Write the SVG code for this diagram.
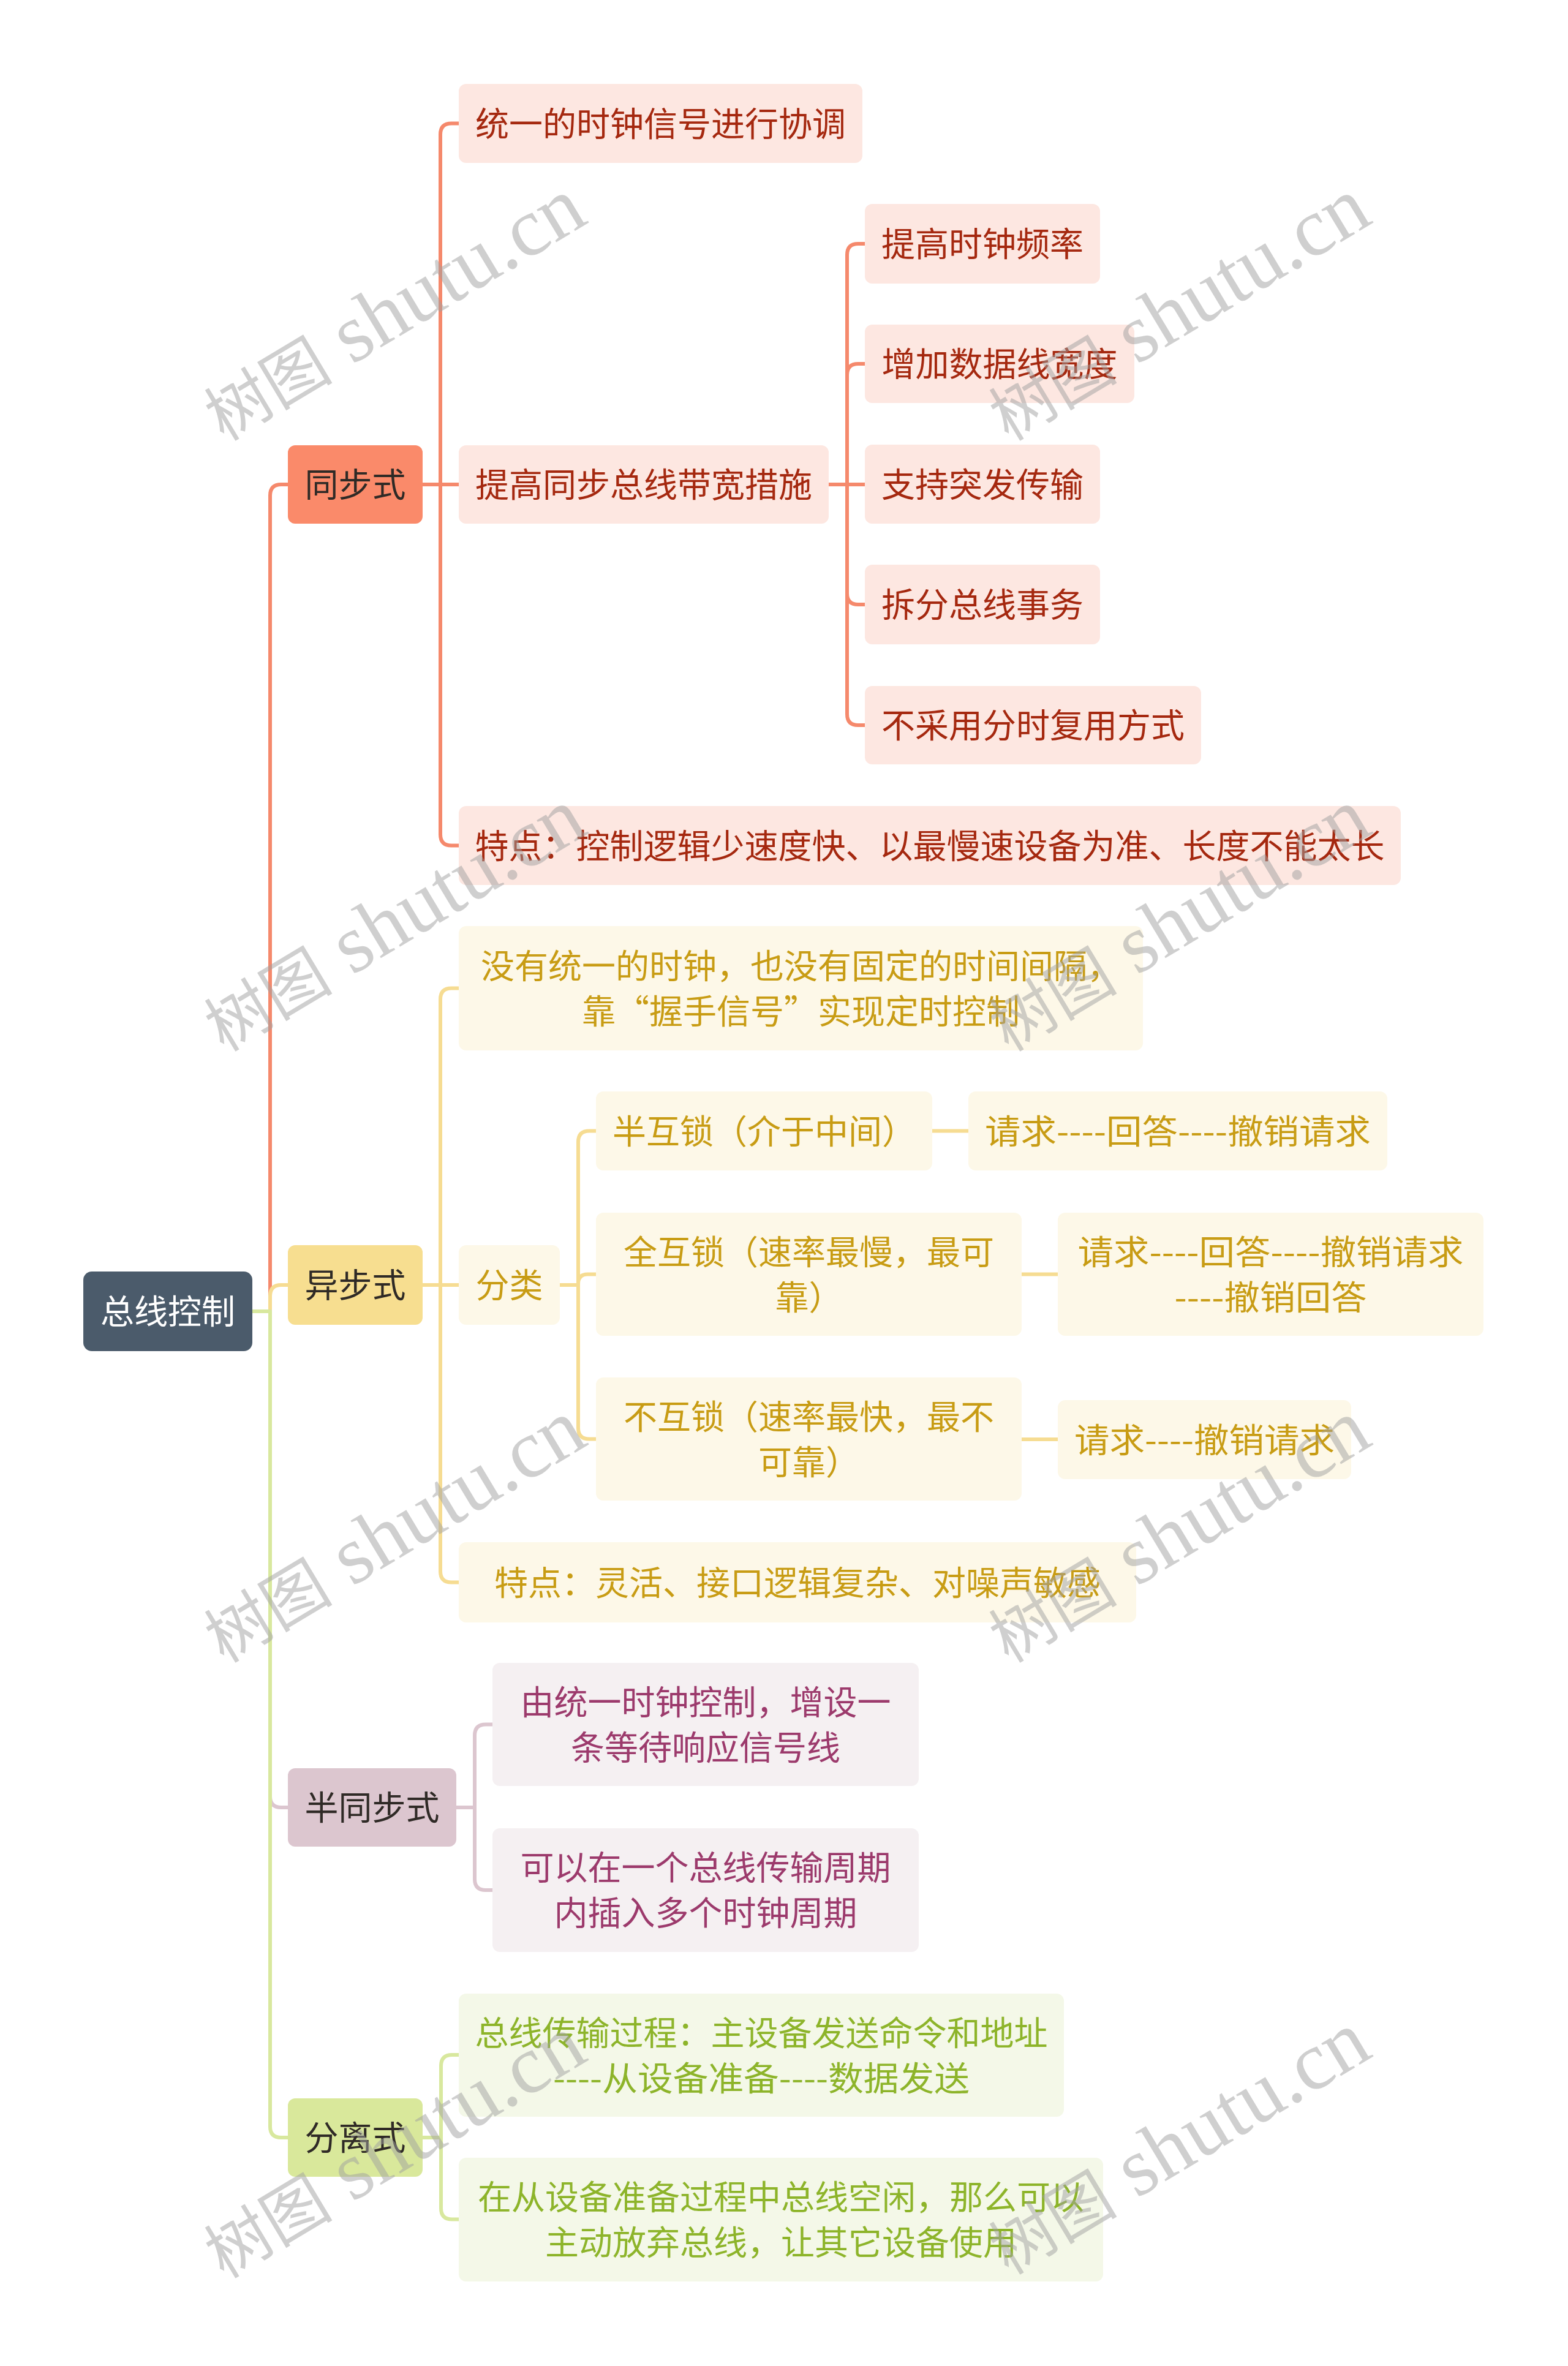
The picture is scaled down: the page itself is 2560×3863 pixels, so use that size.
<svg xmlns="http://www.w3.org/2000/svg" width="2560" height="3863" viewBox="0 0 2560 3863">
<style>
text{font-family:"Noto Sans CJK SC","Noto Sans",sans-serif;font-size:55px;text-anchor:middle}
.c{fill:none;stroke-width:6;stroke-linecap:butt;stroke-linejoin:round}
.r{stroke:#f5896c}.y{stroke:#f6dc92}.p{stroke:#dcc6cf}.g{stroke:#d8e89e}
.root rect{fill:#4b5b6b}.root text{fill:#ffffff}
.l1s rect{fill:#fa8a6a}.l1a rect{fill:#f7de90}.l1p rect{fill:#dcc6cf}.l1g rect{fill:#d9e89b}
.l1 text{fill:#2f2a26}
.s rect{fill:#fde7e1}.s text{fill:#a5280f}
.a rect{fill:#fdf8e8}.a text{fill:#c89c14}
.p2 rect{fill:#f5f0f2}.p2 text{fill:#9c3a6c}
.g2 rect{fill:#f4f8e8}.g2 text{fill:#8db42a}
#watermark text{font-family:"Liberation Serif","Noto Sans CJK SC",serif;font-size:135px;fill:#a0a0a0;fill-opacity:0.5;text-anchor:middle}
.wc{font-size:105px}
</style>
<rect width="2560" height="3863" fill="#ffffff"/>
<g id="connectors">
<path class="c r" d="M412 2141 H441 V809 Q441 791 459 791 H470"/>
<path class="c y" d="M412 2141 H441 V2116 Q441 2098 459 2098 H470"/>
<path class="c p" d="M412 2141 H441 V2933 Q441 2951 459 2951 H470"/>
<path class="c g" d="M412 2141 H441 V3472 Q441 3490 459 3490 H470"/>
<path class="c r" d="M690 791 H719 V219.5 Q719 201.5 737 201.5 H749"/>
<path class="c r" d="M690 791 H749"/>
<path class="c r" d="M690 791 H719 V1362.5 Q719 1380.5 737 1380.5 H749"/>
<path class="c r" d="M1353 791 H1383 V416 Q1383 398 1401 398 H1412"/>
<path class="c r" d="M1353 791 H1383 V612 Q1383 594 1401 594 H1412"/>
<path class="c r" d="M1353 791 H1412"/>
<path class="c r" d="M1353 791 H1383 V969 Q1383 987 1401 987 H1412"/>
<path class="c r" d="M1353 791 H1383 V1166 Q1383 1184 1401 1184 H1412"/>
<path class="c y" d="M690 2098 H719 V1631.5 Q719 1613.5 737 1613.5 H749"/>
<path class="c y" d="M690 2098 H749"/>
<path class="c y" d="M690 2098 H719 V2565.5 Q719 2583.5 737 2583.5 H749"/>
<path class="c y" d="M914 2098 H944 V1864.5 Q944 1846.5 962 1846.5 H973"/>
<path class="c y" d="M914 2098 H944 V2096 Q944 2080.5 959.5 2080.5 H973"/>
<path class="c y" d="M914 2098 H944 V2331.5 Q944 2349.5 962 2349.5 H973"/>
<path class="c y" d="M1522 1846.5 H1581"/>
<path class="c y" d="M1668 2080.5 H1727"/>
<path class="c y" d="M1668 2350 H1727"/>
<path class="c p" d="M745 2951 H775 V2833.5 Q775 2815.5 793 2815.5 H804"/>
<path class="c p" d="M745 2951 H775 V3068 Q775 3086 793 3086 H804"/>
<path class="c g" d="M690 3490 H720 V3373 Q720 3355 738 3355 H749"/>
<path class="c g" d="M690 3490 H720 V3605.5 Q720 3623.5 738 3623.5 H749"/>
</g>
<g id="root" class="root"><rect x="136" y="2076" width="276" height="130" rx="14"/><text x="274" y="2161">总线控制</text></g>
<g id="sync" class="l1 l1s"><rect x="470" y="727" width="220" height="128" rx="12"/><text x="580" y="811">同步式</text></g>
<g id="async" class="l1 l1a"><rect x="470" y="2033" width="220" height="130" rx="12"/><text x="580" y="2118">异步式</text></g>
<g id="semisync" class="l1 l1p"><rect x="470" y="2887" width="275" height="128" rx="12"/><text x="607.5" y="2971">半同步式</text></g>
<g id="split" class="l1 l1g"><rect x="470" y="3426" width="220" height="128" rx="12"/><text x="580" y="3510">分离式</text></g>
<g id="s1" class="s"><rect x="749" y="137" width="659" height="129" rx="12"/><text x="1078.5" y="221.5">统一的时钟信号进行协调</text></g>
<g id="s2" class="s"><rect x="749" y="727" width="604" height="128" rx="12"/><text x="1051" y="811">提高同步总线带宽措施</text></g>
<g id="s3" class="s"><rect x="749" y="1316" width="1538" height="129" rx="12"/><text x="1518" y="1400.5">特点：控制逻辑少速度快、以最慢速设备为准、长度不能太长</text></g>
<g id="s21" class="s"><rect x="1412" y="333" width="384" height="130" rx="12"/><text x="1604" y="418">提高时钟频率</text></g>
<g id="s22" class="s"><rect x="1412" y="530" width="440" height="128" rx="12"/><text x="1632" y="614">增加数据线宽度</text></g>
<g id="s23" class="s"><rect x="1412" y="726" width="384" height="129" rx="12"/><text x="1604" y="810.5">支持突发传输</text></g>
<g id="s24" class="s"><rect x="1412" y="922" width="384" height="130" rx="12"/><text x="1604" y="1007">拆分总线事务</text></g>
<g id="s25" class="s"><rect x="1412" y="1120" width="549" height="128" rx="12"/><text x="1686.5" y="1204">不采用分时复用方式</text></g>
<g id="a1" class="a"><rect x="749" y="1512" width="1117" height="203" rx="12"/><text x="1307.5" y="1596.5">没有统一的时钟，也没有固定的时间间隔，</text><text x="1307.5" y="1670.5">靠“握手信号”实现定时控制</text></g>
<g id="a2" class="a"><rect x="749" y="2033" width="165" height="130" rx="12"/><text x="831.5" y="2118">分类</text></g>
<g id="a3" class="a"><rect x="749" y="2518" width="1106" height="131" rx="12"/><text x="1302" y="2603.5">特点：灵活、接口逻辑复杂、对噪声敏感</text></g>
<g id="a21" class="a"><rect x="973" y="1782" width="549" height="129" rx="12"/><text x="1247.5" y="1866.5">半互锁（介于中间）</text></g>
<g id="a22" class="a"><rect x="973" y="1980" width="695" height="201" rx="12"/><text x="1320.5" y="2063.5">全互锁（速率最慢，最可</text><text x="1320.5" y="2137.5">靠）</text></g>
<g id="a23" class="a"><rect x="973" y="2249" width="695" height="201" rx="12"/><text x="1320.5" y="2332.5">不互锁（速率最快，最不</text><text x="1320.5" y="2406.5">可靠）</text></g>
<g id="a211" class="a"><rect x="1581" y="1782" width="684" height="129" rx="12"/><text x="1923" y="1866.5" textLength="630" lengthAdjust="spacingAndGlyphs">请求----回答----撤销请求</text></g>
<g id="a221" class="a"><rect x="1727" y="1980" width="695" height="201" rx="12"/><text x="2074.5" y="2063.5" textLength="630" lengthAdjust="spacingAndGlyphs">请求----回答----撤销请求</text><text x="2074.5" y="2137.5" textLength="314" lengthAdjust="spacingAndGlyphs">----撤销回答</text></g>
<g id="a231" class="a"><rect x="1727" y="2286" width="479" height="129" rx="12"/><text x="1966.5" y="2370.5" textLength="425" lengthAdjust="spacingAndGlyphs">请求----撤销请求</text></g>
<g id="p1" class="p2"><rect x="804" y="2715" width="696" height="201" rx="12"/><text x="1152" y="2798.5">由统一时钟控制，增设一</text><text x="1152" y="2872.5">条等待响应信号线</text></g>
<g id="p2" class="p2"><rect x="804" y="2985" width="696" height="202" rx="12"/><text x="1152" y="3069">可以在一个总线传输周期</text><text x="1152" y="3143">内插入多个时钟周期</text></g>
<g id="g1" class="g2"><rect x="749" y="3255" width="988" height="201" rx="12"/><text x="1243" y="3338.5">总线传输过程：主设备发送命令和地址</text><text x="1243" y="3412.5" textLength="680" lengthAdjust="spacingAndGlyphs">----从设备准备----数据发送</text></g>
<g id="g2" class="g2"><rect x="749" y="3523" width="1052" height="202" rx="12"/><text x="1275" y="3607">在从设备准备过程中总线空闲，那么可以</text><text x="1275" y="3681">主动放弃总线，让其它设备使用</text></g>
<g id="watermark">
<text x="646" y="547" transform="rotate(-31 646 511)"><tspan class="wc">树图</tspan> shutu.cn</text>
<text x="1927" y="547" transform="rotate(-31 1927 511)"><tspan class="wc">树图</tspan> shutu.cn</text>
<text x="646" y="1544" transform="rotate(-31 646 1508)"><tspan class="wc">树图</tspan> shutu.cn</text>
<text x="1927" y="1544" transform="rotate(-31 1927 1508)"><tspan class="wc">树图</tspan> shutu.cn</text>
<text x="646" y="2542" transform="rotate(-31 646 2506)"><tspan class="wc">树图</tspan> shutu.cn</text>
<text x="1927" y="2542" transform="rotate(-31 1927 2506)"><tspan class="wc">树图</tspan> shutu.cn</text>
<text x="646" y="3547" transform="rotate(-31 646 3511)"><tspan class="wc">树图</tspan> shutu.cn</text>
<text x="1927" y="3541" transform="rotate(-31 1927 3505)"><tspan class="wc">树图</tspan> shutu.cn</text>
</g>
</svg>
